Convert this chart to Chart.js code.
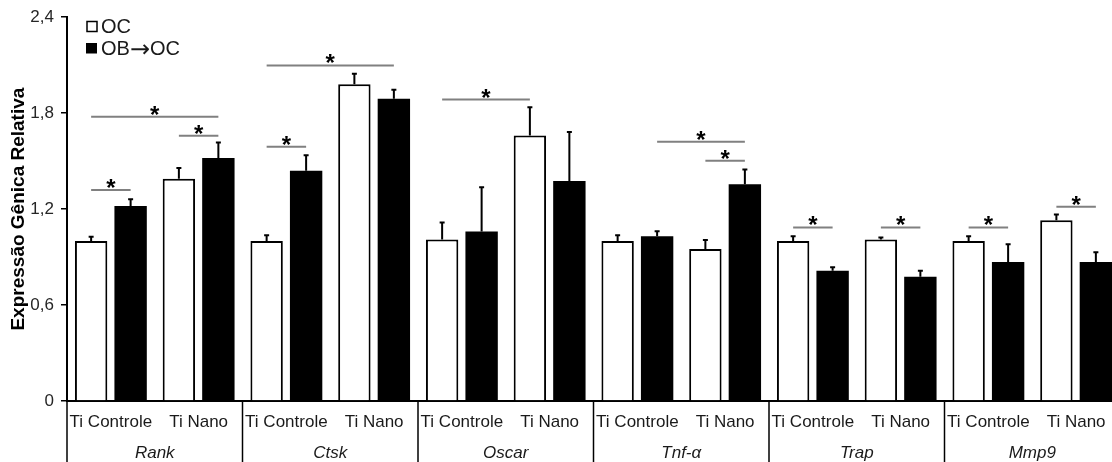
<!DOCTYPE html>
<html>
<head>
<meta charset="utf-8">
<script src="https://cdn.jsdelivr.net/npm/chart.js@4.4.0/dist/chart.umd.min.js"></script>
<style>
  html, body { margin: 0; padding: 0; background: #fff; overflow: hidden; }
  #wrap { position: relative; width: 1120px; height: 462px; }
</style>
</head>
<body>
<div id="wrap"><canvas id="geneChart"></canvas></div>
<script>
// Categories
const conditionLabels = ['Ti Controle', 'Ti Nano', 'Ti Controle', 'Ti Nano', 'Ti Controle', 'Ti Nano',
                         'Ti Controle', 'Ti Nano', 'Ti Controle', 'Ti Nano', 'Ti Controle', 'Ti Nano'];
const geneLabels = ['Rank', 'Ctsk', 'Oscar', 'Tnf-α', 'Trap', 'Mmp9'];
const seriesLabels = ['OC', 'OB→OC'];

// Values
const ocValues   = [1.00, 1.39, 1.00, 1.98, 1.01, 1.66, 1.00, 0.95, 1.00, 1.01, 1.00, 1.13];
const ocErrors   = [0.03, 0.07, 0.04, 0.07, 0.11, 0.18, 0.04, 0.06, 0.033, 0.015, 0.033, 0.04];
const obocValues = [1.22, 1.52, 1.44, 1.89, 1.06, 1.375, 1.03, 1.355, 0.815, 0.777, 0.869, 0.869];
const obocErrors = [0.045, 0.10, 0.10, 0.06, 0.28, 0.31, 0.035, 0.095, 0.025, 0.04, 0.115, 0.064];

// Significance brackets: [fromCategory, fromSeries, toCategory, toSeries, level]
const sigBrackets = [
  [0, 0, 0, 1, 1.32], [0, 0, 1, 1, 1.777], [1, 0, 1, 1, 1.658],
  [2, 0, 2, 1, 1.59], [2, 0, 3, 1, 2.098],
  [4, 0, 5, 0, 1.885],
  [6, 1, 7, 1, 1.621], [7, 0, 7, 1, 1.502],
  [8, 0, 8, 1, 1.085], [9, 0, 9, 1, 1.085],
  [10, 0, 10, 1, 1.085], [11, 0, 11, 1, 1.214]
];

const yTicks = [0, 0.6, 1.2, 1.8, 2.4];

const FONT = "'Liberation Sans', Arial, sans-serif";

const extrasPlugin = {
  id: 'extras',
  afterDatasetsDraw(chart) {
    const { ctx, scales: { y } } = chart;
    const vals = [ocValues, obocValues];
    const errs = [ocErrors, obocErrors];
    ctx.save();

    // error bars (upper only)
    ctx.strokeStyle = '#000';
    ctx.lineWidth = 2;
    [0, 1].forEach(ds => {
      chart.getDatasetMeta(ds).data.forEach((bar, i) => {
        const top = y.getPixelForValue(vals[ds][i]);
        const end = y.getPixelForValue(vals[ds][i] + errs[ds][i]);
        ctx.beginPath();
        ctx.moveTo(bar.x, top);
        ctx.lineTo(bar.x, end);
        ctx.moveTo(bar.x - 2.5, end + 0.5);
        ctx.lineTo(bar.x + 2.5, end + 0.5);
        ctx.stroke();
      });
    });

    // significance lines + asterisks
    sigBrackets.forEach(([c1, s1, c2, s2, lvl]) => {
      const x1 = chart.getDatasetMeta(s1).data[c1].x;
      const x2 = chart.getDatasetMeta(s2).data[c2].x;
      const py = y.getPixelForValue(lvl);
      ctx.strokeStyle = '#808080';
      ctx.lineWidth = 2;
      ctx.beginPath();
      ctx.moveTo(x1, py);
      ctx.lineTo(x2, py);
      ctx.stroke();
      ctx.fillStyle = '#000';
      ctx.font = 'bold 24px ' + FONT;
      ctx.textAlign = 'center';
      ctx.textBaseline = 'alphabetic';
      ctx.fillText('*', (x1 + x2) / 2, py + 6);
    });
    ctx.restore();
  },
  afterDraw(chart) {
    const { ctx, scales: { x, y } } = chart;
    const catW = x.width / conditionLabels.length;
    ctx.save();

    // group separators
    ctx.strokeStyle = '#000';
    ctx.lineWidth = 1.5;
    for (let g = 0; g < geneLabels.length; g++) {
      const sx = x.left + g * 2 * catW;
      ctx.beginPath();
      ctx.moveTo(sx, y.bottom);
      ctx.lineTo(sx, chart.height);
      ctx.stroke();
    }

    // condition labels
    ctx.fillStyle = '#1a1a1a';
    ctx.textAlign = 'center';
    ctx.textBaseline = 'alphabetic';
    ctx.font = '17px ' + FONT;
    conditionLabels.forEach((lab, i) => {
      ctx.fillText(lab, x.getPixelForValue(i), 427);
    });

    // gene labels
    ctx.font = 'italic 17px ' + FONT;
    geneLabels.forEach((g, i) => {
      const cx = (x.getPixelForValue(2 * i) + x.getPixelForValue(2 * i + 1)) / 2;
      ctx.fillText(g, cx, 458);
    });

    // legend
    ctx.textAlign = 'left';
    ctx.lineWidth = 1.5;
    ctx.fillStyle = '#fff';
    ctx.strokeStyle = '#000';
    ctx.fillRect(87, 21.5, 10, 10);
    ctx.strokeRect(87, 21.5, 10, 10);
    ctx.fillStyle = '#000';
    ctx.fillRect(86, 43, 11, 10.5);
    ctx.fillStyle = '#1a1a1a';
    ctx.font = '20px ' + FONT;
    ctx.fillText(seriesLabels[0], 101, 33);
    // second label: draw the arrow with a font that has a full-size glyph
    const parts = seriesLabels[1].split('→');
    let lx = 101;
    ctx.fillText(parts[0], lx, 55);
    lx += ctx.measureText(parts[0]).width;
    ctx.font = "24px 'DejaVu Sans', sans-serif";
    ctx.fillText('→', lx, 56.5);
    lx += ctx.measureText('→').width;
    ctx.font = '20px ' + FONT;
    ctx.fillText(parts[1], lx, 55);

    ctx.restore();
  }
};

new Chart(document.getElementById('geneChart'), {
  type: 'bar',
  data: {
    labels: conditionLabels,
    datasets: [
      {
        label: seriesLabels[0],
        data: ocValues,
        backgroundColor: '#fff',
        borderColor: '#000',
        borderWidth: 2,
        categoryPercentage: 0.9,
        barPercentage: 0.82
      },
      {
        label: seriesLabels[1],
        data: obocValues,
        backgroundColor: '#000',
        borderWidth: 0,
        categoryPercentage: 0.9,
        barPercentage: 0.82
      }
    ]
  },
  options: {
    responsive: true,
    maintainAspectRatio: false,
    animation: false,
    layout: { padding: { top: 17, right: 0, bottom: 0, left: 0 } },
    plugins: {
      legend: { display: false },
      tooltip: { enabled: false }
    },
    scales: {
      x: {
        grid: { display: false },
        border: { display: true, color: '#000', width: 2 },
        ticks: { display: false },
        afterFit: scale => { scale.height = 61; }
      },
      y: {
        min: 0,
        max: 2.4,
        afterBuildTicks: scale => { scale.ticks = yTicks.map(v => ({ value: v })); },
        ticks: {
          color: '#262626',
          font: { family: FONT, size: 17 },
          padding: 7,
          callback: v => v === 0 ? '0' : v.toFixed(1).replace('.', ',')
        },
        grid: {
          display: true,
          drawOnChartArea: false,
          drawTicks: true,
          tickLength: 6,
          color: '#000',
          lineWidth: 1.5
        },
        border: { display: true, color: '#000', width: 2 },
        title: {
          display: true,
          text: 'Expressão Gênica Relativa',
          color: '#000',
          font: { family: FONT, size: 19, weight: 'bold' },
          padding: { top: 7, bottom: 0 }
        },
        afterFit: scale => { scale.width = 67; }
      }
    }
  },
  plugins: [extrasPlugin]
});
</script>
</body>
</html>
